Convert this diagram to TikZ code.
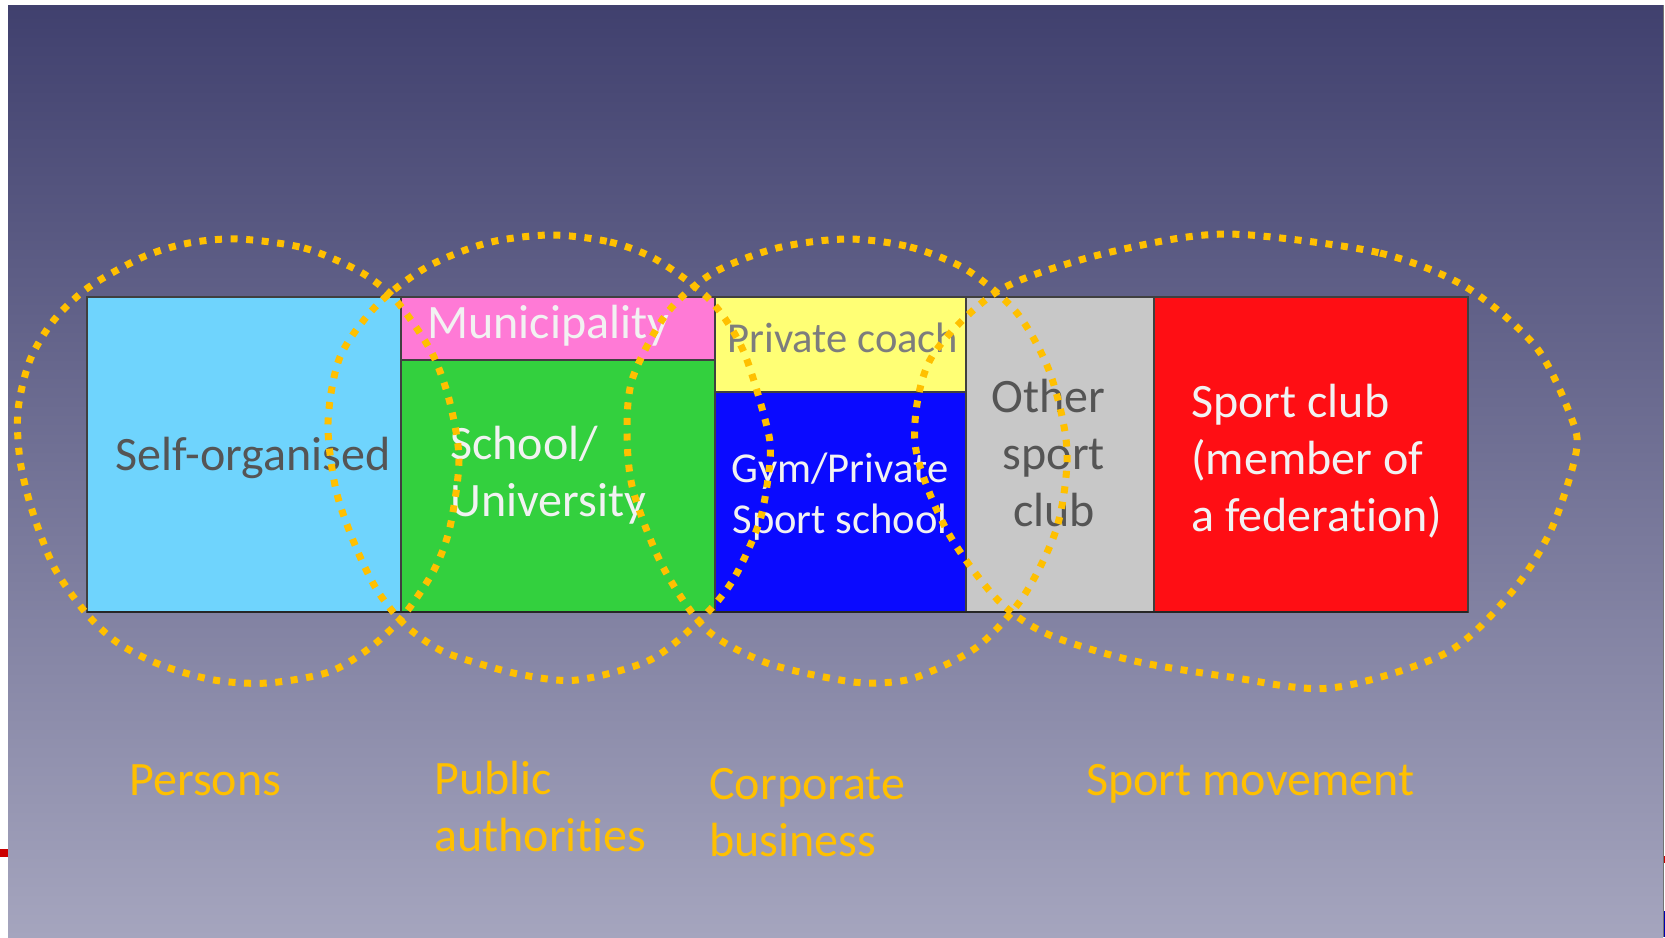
\documentclass[tikz,border=0pt]{standalone}
\usepackage{fontspec}
\setmainfont[Ligatures=NoCommon]{Carlito}

\definecolor{slidetop}{RGB}{64,64,110}
\definecolor{slidebottom}{RGB}{165,165,190}
\definecolor{selfblue}{RGB}{111,212,253}
\definecolor{munipink}{RGB}{255,122,214}
\definecolor{schoolgreen}{RGB}{51,208,62}
\definecolor{coachyellow}{RGB}{255,255,117}
\definecolor{gymblue}{RGB}{10,10,255}
\definecolor{othergray}{RGB}{200,200,200}
\definecolor{clubred}{RGB}{255,14,20}
\definecolor{darktext}{RGB}{85,85,85}
\definecolor{coachtext}{RGB}{125,125,125}
\definecolor{lighttext}{RGB}{242,242,242}
\definecolor{groupgold}{RGB}{255,192,0}

\tikzset{
  box/.style={draw=black!75,line width=.75pt},
  group/.style={draw=groupgold,line width=3.5pt,dash pattern=on 3.5pt off 4.3pt},
  txt/.style={inner sep=0pt,font=\fontsize{24}{28.5}\selectfont},
  smalltxt/.style={inner sep=0pt,font=\fontsize{21.3}{25.5}\selectfont},
}

\begin{document}
\begin{tikzpicture}[x=.5pt,y=-.5pt]
                \useasboundingbox (0,0) rectangle (1665,937);
                \fill[white] (0,0) rectangle (1665,937);
                \shade[top color=slidetop,bottom color=slidebottom] (8,5) rectangle (1663,937);
                \draw[black!55] (1663,5) -- (1663,937);
                \fill[red!80!black] (0,849) rectangle (8,857);
                \fill[red!80!black] (1664,856) rectangle (1665,863);
                \fill[blue!70!black] (1664,911) rectangle (1665,937);
                % the boxes
                \draw[box,fill=selfblue] (87,297) rectangle (401,612);
                \draw[box,fill=munipink] (401,297) rectangle (715,360);
                \draw[box,fill=schoolgreen] (401,360) rectangle (715,612);
                \draw[box,fill=coachyellow] (715,297) rectangle (966,392);
                \draw[box,fill=gymblue] (715,392) rectangle (966,612);
                \draw[box,fill=othergray] (966,297) rectangle (1154,612);
                \draw[box,fill=clubred] (1154,297) rectangle (1468,612);
                \draw[black!85,line width=1pt] (87,612) -- (1468,612);
                \node[txt,text=darktext,anchor=base west] (self) at (115,470) {Self-organised};
                \node[txt,text=lighttext,anchor=base west] (muni) at (427,338) {Municipality};
                \node[txt,text=lighttext,anchor=west,align=left] (school) at (450,475) {School/\\University};
                \node[smalltxt,text=coachtext,anchor=base west] (coach) at (727,352) {Private coach};
                \node[smalltxt,text=lighttext,align=center] (gym) at (840,497) {Gym/Private\\Sport school};
                \node[txt,text=darktext,align=center] (other) at (1054,453) {Other\hspace*{.226em}\\sport\\club};
                \node[txt,text=lighttext,anchor=west,align=left] (club) at (1191,461) {Sport club\\(member of\\a federation)};
                % the dotted groups
                \draw[group] plot[smooth cycle] coordinates {(239,239) (304,248) (357,270) (389,293) (411,320) (434,357) (450,403) (459,460) (450,527) (434,570) (404,615) (371,647) (329,672) (268,683) (214,680) (161,665) (118,643) (86,613) (54,567) (32,510) (20,460) (18,410) (30,360) (54,320) (89,287) (143,257) (189,243)};
                \draw[group] plot[smooth cycle] coordinates {(550,235) (610,242) (657,260) (710,300) (743,350) (767,427) (770,460) (760,520) (733,580) (700,620) (650,660) (577,680) (523,675) (477,663) (440,650) (405,625) (377,590) (355,545) (336,490) (328,423) (340,357) (377,305) (427,267) (487,243)};
                \draw[group] plot[smooth cycle] coordinates {(847,239) (910,247) (967,270) (1017,313) (1050,373) (1067,450) (1057,527) (1023,597) (977,647) (917,677) (877,683) (840,680) (767,663) (707,630) (663,567) (633,490) (627,430) (633,377) (667,313) (713,273) (777,248)};
                \draw[group] plot[smooth cycle] coordinates {(1250,235) (1380,253) (1466,287) (1536,347) (1571,417) (1576,453) (1551,530) (1511,593) (1446,653) (1331,688) (1230,677) (1130,660) (1045,633) (995,597) (945,527) (915,443) (930,360) (995,293) (1080,260) (1180,238)};
                % group names
                \node[txt,text=groupgold,anchor=base west] (persons) at (129,795) {Persons};
                \node[txt,text=groupgold,anchor=west,align=left] (public) at (434,807) {Public\\authorities};
                \node[txt,text=groupgold,anchor=west,align=left] (corporate) at (709,813) {Corporate\\business};
                \node[txt,text=groupgold,anchor=base west] (movement) at (1086,795) {Sport movement};
\end{tikzpicture}
\end{document}
